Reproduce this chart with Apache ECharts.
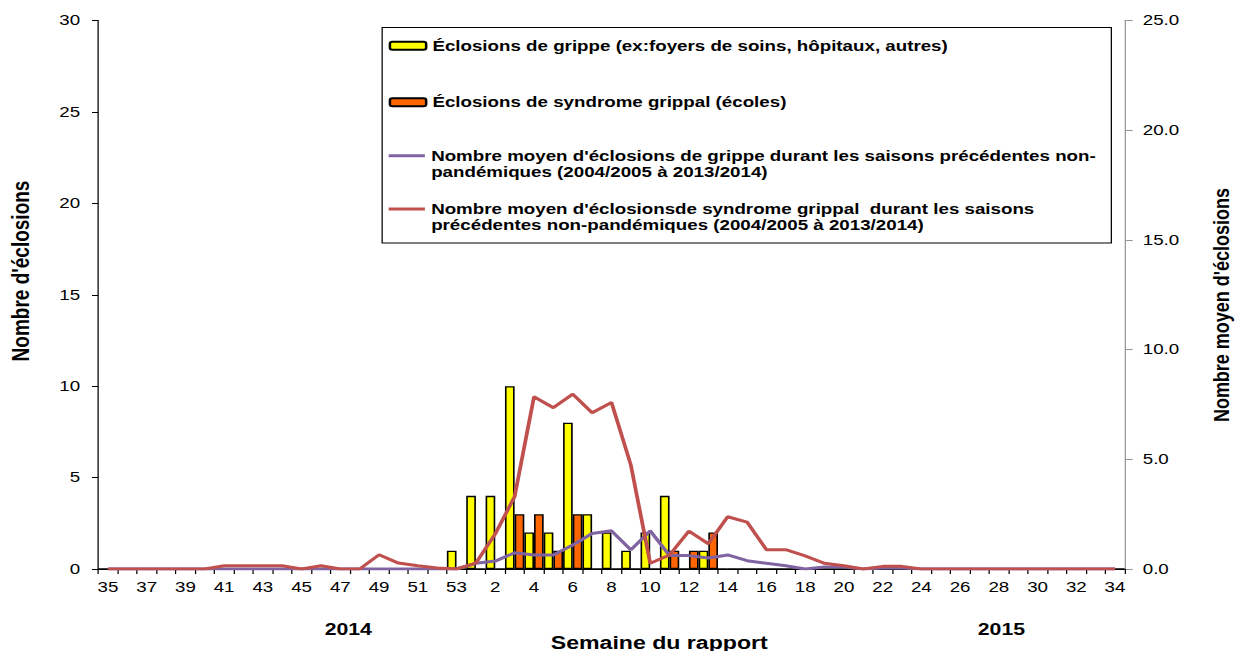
<!DOCTYPE html>
<html>
<head>
<meta charset="utf-8">
<script src="https://cdn.jsdelivr.net/npm/echarts@6/dist/echarts.min.js"></script>
<style>
html,body{margin:0;padding:0;background:#fff;overflow:hidden;}
#chart{width:989px;height:651px;transform:scaleX(1.2497);transform-origin:0 0;}
</style>
</head>
<body>
<div id="chart"></div>
<script>
// Semaines du rapport (2014: 35-53, 2015: 1-34)
const weeks = ['35','36','37','38','39','40','41','42','43','44','45','46','47','48','49','50','51','52','53',
  '1','2','3','4','5','6','7','8','9','10','11','12','13','14','15','16','17','18','19','20','21','22','23','24','25','26','27','28','29','30','31','32','33','34'];

// Éclosions de grippe (axe gauche)
const grippe = [0,0,0,0,0,0,0,0,0,0,0,0,0,0,0,0,0,0,1,
  4,4,10,2,2,8,3,2,1,2,4,0,1,0,0,0,0,0,0,0,0,0,0,0,0,0,0,0,0,0,0,0,0,0];

// Éclosions de syndrome grippal (axe gauche)
const syndrome = [0,0,0,0,0,0,0,0,0,0,0,0,0,0,0,0,0,0,0,
  0,0,3,3,1,3,0,0,0,0,1,1,2,0,0,0,0,0,0,0,0,0,0,0,0,0,0,0,0,0,0,0,0,0];

// Nombre moyen d'éclosions de grippe (axe droit)
const moyenGrippe = [0,0,0,0,0,0,0,0,0,0,0,0,0,0,0,0,0,0,0,
  0.26,0.36,0.74,0.64,0.64,1.09,1.62,1.74,0.87,1.74,0.61,0.61,0.5,0.64,0.38,0.26,0.15,0,0.09,0.09,0,0.05,0.05,0,0,0,0,0,0,0,0,0,0,0];

// Nombre moyen d'éclosions de syndrome grippal (axe droit)
const moyenSyndrome = [0,0,0,0,0,0,0.15,0.15,0.15,0.15,0,0.15,0,0,0.65,0.27,0.15,0.05,0,
  0.27,1.6,3.3,7.85,7.35,7.97,7.12,7.59,4.74,0.26,0.64,1.73,1.15,2.38,2.14,0.88,0.88,0.6,0.26,0.15,0,0.12,0.12,0,0,0,0,0,0,0,0,0,0,0];

const names = [
  "Éclosions de grippe (ex:foyers de soins, hôpitaux, autres)",
  "Éclosions de syndrome grippal (écoles)",
  "Nombre moyen d'éclosions de grippe durant les saisons précédentes non-pandémiques (2004/2005 à 2013/2014)",
  "Nombre moyen d'éclosionsde syndrome grippal  durant les saisons précédentes non-pandémiques (2004/2005 à 2013/2014)"
];
const legendLabels = [
  "Éclosions de grippe (ex:foyers de soins, hôpitaux, autres)",
  "Éclosions de syndrome grippal (écoles)",
  "Nombre moyen d'éclosions de grippe durant les saisons précédentes non-\npandémiques (2004/2005 à 2013/2014)",
  "Nombre moyen d'éclosionsde syndrome grippal  durant les saisons\nprécédentes non-pandémiques (2004/2005 à 2013/2014)"
];

const FONT = "'Liberation Sans', Arial, sans-serif";
const chart = echarts.init(document.getElementById('chart'), null, {renderer: 'svg'});

function legendAt(i, top, isLine) {
  return {
    data: [isLine ? {name: names[i], icon: 'rect'} : names[i]],
    left: 311, top: top, padding: 0,
    orient: 'vertical',
    itemWidth: 29, itemHeight: isLine ? 3 : 8,
    selectedMode: false,
    // an empty leading line keeps the icon level with the first text line
    formatter: () => (isLine ? '\n' : '') + legendLabels[i],
    textStyle: {fontFamily: FONT, fontWeight: 'bold', fontSize: 15, color: '#000', lineHeight: 16}
  };
}

const option = {
  animation: false,
  backgroundColor: '#fff',
  textStyle: {fontFamily: FONT},
  grid: {left: 78.6, right: 89, top: 20.5, bottom: 82, containLabel: false},
  legend: [
    legendAt(0, 37.7, false),
    legendAt(1, 94.3, false),
    legendAt(2, 131.7, true),
    legendAt(3, 185, true)
  ],
  xAxis: {
    type: 'category',
    data: weeks,
    boundaryGap: true,
    axisLine: {lineStyle: {color: '#000', width: 1}},
    axisTick: {show: true, interval: 0, length: 5, lineStyle: {color: '#000'}},
    axisLabel: {interval: 1, margin: 11, fontSize: 15, color: '#000', fontFamily: FONT}
  },
  yAxis: [
    {
      type: 'value', min: 0, max: 30, interval: 5, position: 'left',
      splitLine: {show: false},
      axisLine: {show: true, lineStyle: {color: '#000', width: 1}},
      axisTick: {show: true, length: 5, lineStyle: {color: '#000'}},
      axisLabel: {margin: 14.5, fontSize: 15, color: '#000', fontFamily: FONT}
    },
    {
      type: 'value', min: 0, max: 25, interval: 5, position: 'right',
      splitLine: {show: false},
      axisLine: {show: true, lineStyle: {color: '#969696', width: 1}},
      axisTick: {show: true, length: 6.4, lineStyle: {color: '#969696'}},
      axisLabel: {margin: 14.4, fontSize: 15, color: '#000', fontFamily: FONT,
        formatter: v => v.toFixed(1)}
    }
  ],
  series: [
    {
      name: names[0], type: 'bar', data: grippe, yAxisIndex: 0,
      barGap: '0%', barCategoryGap: '0%',
      itemStyle: {color: '#FFFF00', borderColor: '#000', borderWidth: 1.3}
    },
    {
      name: names[1], type: 'bar', data: syndrome, yAxisIndex: 0,
      barGap: '0%', barCategoryGap: '0%',
      itemStyle: {color: '#FF6600', borderColor: '#000', borderWidth: 1.3}
    },
    {
      name: names[2], type: 'line', data: moyenGrippe, yAxisIndex: 1,
      symbol: 'none', smooth: false,
      lineStyle: {color: '#8064A2', width: 3},
      itemStyle: {color: '#8064A2'}
    },
    {
      name: names[3], type: 'line', data: moyenSyndrome, yAxisIndex: 1,
      symbol: 'none', smooth: false,
      lineStyle: {color: '#C0504D', width: 3},
      itemStyle: {color: '#C0504D'}
    }
  ],
  graphic: [
    {type: 'rect', silent: true, z: 0,
      shape: {x: 305.8, y: 27.5, width: 583.5, height: 215.5},
      style: {fill: 'none', stroke: '#000', lineWidth: 1}},
    {type: 'text', x: 17.3, y: 271, rotation: Math.PI / 2,
      style: {text: "Nombre d'éclosions", font: "bold 19px " + FONT, fill: '#000', align: 'center', verticalAlign: 'middle'}},
    {type: 'text', x: 977.6, y: 305, rotation: Math.PI / 2,
      style: {text: "Nombre moyen d'éclosions", font: "bold 18px " + FONT, fill: '#000', align: 'center', verticalAlign: 'middle'}},
    {type: 'text', x: 527.5, y: 642,
      style: {text: "Semaine du rapport", font: "bold 18.5px " + FONT, fill: '#000', align: 'center', verticalAlign: 'middle'}},
    {type: 'text', x: 278.7, y: 629,
      style: {text: "2014", font: "bold 17px " + FONT, fill: '#000', align: 'center', verticalAlign: 'middle'}},
    {type: 'text', x: 801.3, y: 629,
      style: {text: "2015", font: "bold 17px " + FONT, fill: '#000', align: 'center', verticalAlign: 'middle'}}
  ]
};
chart.setOption(option);
</script>
</body>
</html>
